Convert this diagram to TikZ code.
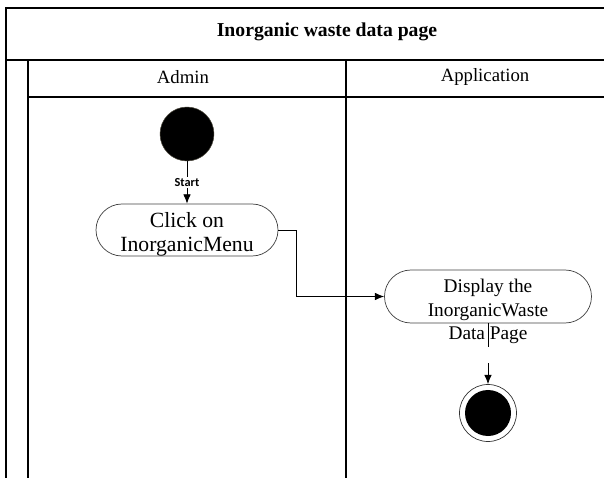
\documentclass[tikz,border=0pt]{standalone}
\usepackage{fontspec}
\setmainfont{Liberation Serif}
\newfontfamily\labelfont{Carlito}
\usetikzlibrary{arrows.meta,positioning,shapes.misc}

\begin{document}
\begin{tikzpicture}[x=0.03cm,y=-0.03cm,
  lane/.style={draw,line width=0.9pt},
  action/.style={draw=black!75,rounded rectangle,line width=0.6pt,inner sep=0pt},
  acttext/.style={align=center,inner sep=0pt},
  startnode/.style={circle,fill=black,draw=black!80!yellow,minimum size=1.62cm,inner sep=0pt},
  endnode/.style={circle,draw=black!80,line width=0.6pt,minimum size=1.71cm,inner sep=0pt,
    path picture={\fill (path picture bounding box.center) circle (0.69cm);}},
  flow/.style={line width=0.7pt,>={Latex[length=8pt,width=6.5pt]}}]

        \useasboundingbox (0,0) rectangle (604,478);

        % swimlane frame
        \draw[lane] (604,8) -- (6,8) -- (6,478);
        \draw[lane] (6,60) -- (604,60);
        \draw[lane] (28,60) -- (28,478);
        \draw[lane] (346,60) -- (346,478);
        \draw[lane] (28,97) -- (604,97);

        \node[font=\fontsize{16.8}{20}\selectfont\bfseries] (title) at (327,32) {Inorganic waste data page};
        \node[font=\fontsize{16}{19}\selectfont] (admin) at (183,77) {Admin};
        \node[font=\fontsize{16}{19}\selectfont] (app) at (485,77) {Application};

        % activities
        \node[startnode] (start) at (187,134) {};
        \node[action,minimum width=5.46cm,minimum height=1.56cm] (click) at (187,230) {};
        \node[acttext,font=\fontsize{18.5}{20.5}\selectfont] (clicktext) at (187,234) {Click on\\InorganicMenu};

        \node[action,minimum width=6.21cm,minimum height=1.59cm] (disp) at (488,296.5) {};
        \node[acttext,font=\fontsize{16.5}{20}\selectfont] (disptext) at (488,311.5) {Display the\\InorganicWaste\\Data\ Page};

        \node[endnode] (finish) at (488,413) {};

        \coordinate (stubA) at (488,347);
        \coordinate (stubB) at (488,363);

        \draw[flow,->] (start) -- node[fill=white,inner sep=1pt,font=\labelfont\bfseries\fontsize{10.5}{12}\selectfont]{Start} (click);
        \draw[flow,->] (click.east) -- ++(18,0) |- (disp.west);
        \draw[flow] (disp.south) -- (stubA);
        \draw[flow,->] (stubB) -- (finish);
      \end{tikzpicture}
\end{document}
